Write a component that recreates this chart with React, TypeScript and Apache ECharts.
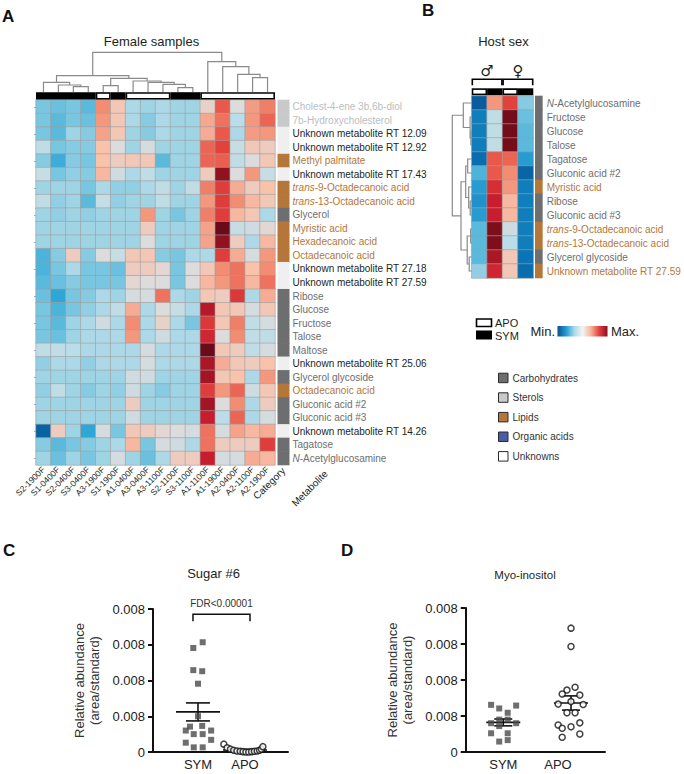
import React, { useEffect, useRef } from 'react';
import * as echarts from 'echarts';

const FONT = '"Liberation Sans", Arial, Helvetica, sans-serif';
const INK = '#231f20';

// ---------- Panel A data ----------
const samplesA = ['S2-1900F', 'S1-0400F', 'S2-0400F', 'S3-0400F', 'A3-1900F', 'S1-1900F', 'A1-0400F', 'A3-0400F',
  'A3-1100F', 'S2-1100F', 'S3-1100F', 'A1-1100F', 'A1-1900F', 'A2-0400F', 'A2-1100F', 'A2-1900F'];

const metabolitesA = ['Cholest-4-ene 3b,6b-diol', '7b-Hydroxycholesterol', 'Unknown metabolite RT 12.09',
  'Unknown metabolite RT 12.92', 'Methyl palmitate', 'Unknown metabolite RT 17.43', 'trans-9-Octadecanoic acid',
  'trans-13-Octadecanoic acid', 'Glycerol', 'Myristic acid', 'Hexadecanoic acid', 'Octadecanoic acid',
  'Unknown metabolite RT 27.18', 'Unknown metabolite RT 27.59', 'Ribose', 'Glucose', 'Fructose', 'Talose', 'Maltose',
  'Unknown metabolite RT 25.06', 'Glycerol glycoside', 'Octadecanoic acid ', 'Gluconic acid #2', 'Gluconic acid #3',
  'Unknown metabolite RT 14.26', 'Tagatose', 'N-Acetylglucosamine'];

const categoriesA = ['sterol', 'sterol', 'unknown', 'unknown', 'lipid', 'unknown', 'lipid', 'lipid', 'carb', 'lipid',
  'lipid', 'lipid', 'unknown', 'unknown', 'carb', 'carb', 'carb', 'carb', 'carb', 'unknown', 'carb', 'lipid', 'carb',
  'carb', 'unknown', 'carb', 'carb'];

const valuesA = [
  [3, 2.8, 3, 2.6, 7, 5.8, 3.8, 3.6, 3.8, 3.6, 3.6, 5.4, 7.8, 5, 6.7, 7.2],
  [3, 2.6, 3, 2.8, 6.8, 5.8, 3.8, 3.2, 3.8, 3.6, 3.6, 6.5, 7.4, 4.0, 6.8, 7.6],
  [3, 2.6, 3.6, 3.2, 6.6, 5.8, 3.6, 3.2, 3.8, 3.6, 3.6, 6.4, 7.8, 3.8, 6.7, 6.8],
  [4.2, 3, 3.2, 3.2, 6.0, 5.0, 3.6, 4.8, 3.6, 3.6, 3.6, 7.6, 8.2, 4.4, 5.8, 5.6],
  [3.2, 2.2, 3.2, 3.0, 6.0, 5.6, 5.8, 5.8, 2.6, 3.6, 3.6, 7.6, 7.7, 4.2, 5.0, 5.8],
  [4.4, 3, 3.4, 3.2, 6.2, 4.6, 3.8, 4.2, 3.6, 3.6, 3.6, 5.6, 9.6, 5.0, 6.8, 4.4],
  [3.6, 3.6, 3.6, 3.0, 3.8, 3.4, 3.4, 3.8, 4.2, 3.6, 4.2, 7.2, 8.3, 6.4, 5.6, 6.0],
  [4.2, 3.4, 3.6, 2.6, 4.4, 3.4, 3.6, 3.6, 4.2, 3.6, 3.6, 6.8, 8.3, 7.0, 6.2, 5.8],
  [3.6, 3.4, 3.6, 3.4, 3.6, 3.6, 3.6, 6.8, 3.6, 3.0, 3.6, 7.2, 8.3, 6.2, 5.8, 3.8],
  [3.6, 3.6, 3.6, 3.6, 3.6, 3.6, 3.6, 5.6, 3.6, 3.6, 3.6, 6.6, 10, 4.4, 4.6, 5.2],
  [3.6, 3.6, 3.6, 3.6, 3.6, 3.6, 3.6, 5.0, 3.6, 3.6, 3.6, 6.6, 9.6, 5.6, 3.8, 6.2],
  [2.4, 3.2, 5.6, 3.2, 5.0, 4.4, 5.8, 5.8, 3.2, 3.0, 3.8, 3.8, 8.3, 6.4, 4.8, 6.8],
  [2.4, 3.0, 3.8, 3.0, 3.0, 2.8, 5.6, 5.6, 5.2, 3.0, 5.0, 5.8, 7.0, 7.4, 6.0, 7.0],
  [2.6, 2.8, 3.2, 3.0, 3.0, 3.0, 5.2, 5.0, 5.0, 3.0, 5.0, 6.2, 6.8, 7.4, 6.2, 7.4],
  [2.8, 2.0, 3.0, 3.2, 3.8, 3.6, 4.8, 4.8, 7.4, 3.8, 3.6, 5.8, 5.6, 8.4, 3.8, 6.4],
  [3.0, 2.4, 3.0, 3.4, 3.8, 4.2, 6.4, 3.8, 5.0, 4.4, 3.8, 9.2, 5.8, 5.8, 4.8, 5.8],
  [3.0, 2.6, 3.6, 3.8, 4.6, 3.8, 7.0, 3.8, 5.4, 3.8, 3.0, 8.4, 5.8, 7.2, 4.2, 4.8],
  [3.0, 2.8, 3.6, 3.8, 3.8, 3.8, 6.8, 3.8, 4.6, 3.8, 3.8, 8.8, 5.0, 7.0, 4.2, 4.2],
  [4.2, 4.2, 4.0, 3.8, 3.8, 3.8, 3.8, 4.8, 3.8, 3.8, 3.8, 10, 5.8, 5.6, 4.2, 4.8],
  [3.4, 3.8, 3.8, 3.4, 3.8, 3.8, 3.8, 4.8, 3.8, 3.8, 3.8, 9.3, 6.4, 5.8, 5.6, 6.0],
  [3.6, 3.6, 3.6, 3.6, 3.6, 3.6, 4.6, 4.6, 3.6, 3.6, 3.6, 9.4, 5.8, 6.0, 3.8, 6.8],
  [3.4, 4.2, 3.6, 3.2, 3.6, 3.4, 4.6, 3.6, 3.2, 3.6, 3.6, 8.3, 6.8, 7.6, 4.6, 5.8],
  [3.6, 3.6, 3.6, 3.6, 3.6, 3.6, 5.6, 3.6, 3.6, 3.6, 3.6, 9.4, 5.0, 7.0, 3.8, 5.6],
  [3.6, 3.6, 3.6, 3.6, 3.6, 3.6, 4.6, 3.6, 3.6, 3.6, 3.6, 9.0, 4.0, 7.6, 3.8, 4.8],
  [0.5, 5.6, 3.6, 2.0, 4.8, 3.0, 5.8, 5.6, 5.2, 5.0, 4.8, 7.4, 4.8, 6.6, 6.2, 6.4],
  [3.2, 2.6, 3.0, 3.2, 3.6, 3.8, 6.2, 3.0, 4.8, 4.6, 3.8, 7.4, 5.6, 5.6, 5.6, 8.3],
  [3.6, 2.8, 3.6, 3.0, 3.6, 4.8, 3.6, 2.8, 3.8, 5.6, 5.6, 9.0, 4.8, 4.8, 6.4, 6.2],
];

// column dendrogram: [left, right, height]; leaves are column indices
const dendroA: any = [
  [[0, [1, [2, 3, 5.3], 7], 9.7], [[4, 5, 6.3], [6, [7, [8, [9, 10, 4.3], 7.7], 9.7], 11], 13.7], 16.3],
  [11, [12, [13, [14, 15, 14.3], 17.7], 25.3], 30.3],
  39.7,
];

// ---------- Panel B data ----------
const samplesB = ['Male APO', 'Male SYM', 'Female APO', 'Female SYM'];
const groupsB = ['APO', 'SYM', 'APO', 'SYM'];
const sexSymbolsB = ['\u2642', '\u2640'];
const sexSpansB = [[0, 1], [2, 3]];
const metabolitesB = ['N-Acetylglucosamine', 'Fructose', 'Glucose', 'Talose', 'Tagatose', 'Gluconic acid #2',
  'Myristic acid', 'Ribose', 'Gluconic acid #3', 'trans-9-Octadecanoic acid', 'trans-13-Octadecanoic acid',
  'Glycerol glycoside', 'Unknown metabolite RT 27.59'];
const categoriesB = ['carb', 'carb', 'carb', 'carb', 'carb', 'carb', 'lipid', 'carb', 'carb', 'lipid', 'lipid', 'carb', 'lipid'];
const valuesB = [
  [0.3, 6.8, 8.2, 3.2],
  [1.2, 4.2, 9.9, 2.8],
  [1.2, 4.2, 9.9, 2.6],
  [1.2, 4.2, 9.9, 2.6],
  [0.8, 7.8, 7.6, 1.8],
  [2.4, 7.8, 7.0, 0.6],
  [1.8, 8.6, 6.8, 1.2],
  [1.6, 9.0, 6.2, 1.2],
  [1.8, 9.0, 6.2, 1.2],
  [2.6, 9.8, 4.6, 1.2],
  [2.6, 9.8, 4.0, 1.2],
  [2.6, 9.3, 5.8, 1.0],
  [3.4, 8.8, 5.8, 0.8],
];
const dendroB: any = [
  [0, [1, [2, 3, 0.8], 1.6], 8.4],
  [[[4, 5, 4], [6, [7, 8, 1.5], 3], 6], [[9, 10, 1], [11, 12, 2.5], 4.5], 10.7],
  19.4,
];

// ---------- Legends ----------
const legendCategories = ['Carbohydrates', 'Sterols', 'Lipids', 'Organic acids', 'Unknowns'];
const legendKeys = ['carb', 'sterol', 'lipid', 'organic', 'unknown'];
const groupLegend = ['APO', 'SYM'];

// ---------- Panels C & D ----------
const groupsCD = ['SYM', 'APO'];
const yTickLabels = ['0', '0.008', '0.008', '0.008', '0.008'];
const titleC = 'Sugar #6';
const titleD = 'Myo-inositol';
const fdrText = 'FDR<0.00001';
const fdrLevel = 3.85;

const symC = [3.07, 2.91, 2.29, 2.26, 1.91, 1.0, 0.71, 0.73, 0.6, 0.6, 0.5, 0.5, 0.34, 0.26, 0.13, 0.13];
const symCJitter = [0.1, -0.1, -0.1, 0.09, 0, 0, -0.17, 0.09, -0.26, 0.28, -0.09, 0.1, 0.28, -0.26, -0.09, 0.1];
const apoC = [0.22, 0.12, 0.08, 0.05, 0.03, 0.02, 0.01, 0.0, 0.0, 0.01, 0.02, 0.03, 0.05, 0.08, 0.15];
const apoCJitter = [-0.45, -0.38, -0.31, -0.24, -0.17, -0.1, -0.04, 0.02, 0.08, 0.14, 0.2, 0.26, 0.31, 0.35, 0.38];

const symD = [1.31, 1.21, 1.29, 1.09, 0.9, 0.9, 0.8, 0.8, 0.72, 0.52, 0.52, 0.29, 0.33];
const symDJitter = [-0.18, -0.06, 0.19, 0.065, -0.06, 0.065, -0.18, 0.19, -0.06, -0.18, 0.065, -0.06, 0.065];
const apoD = [3.44, 2.93, 1.80, 1.72, 1.61, 1.58, 1.40, 1.33, 1.32, 1.09, 1.09, 0.75, 0.66, 0.81, 0.70, 0.50, 0.41];
const apoDJitter = [0, 0, 0.06, -0.06, -0.13, 0.13, 0, -0.19, 0.18, -0.06, 0.06, -0.19, -0.13, 0.13, 0, 0.13, -0.13];

// ---------- styles ----------
const heatColors = ['#08508f', '#0a74b6', '#2ea6d6', '#79c6e0', '#b9dde9', '#dcdcdc', '#f8c2ab', '#f28c72', '#e84b40', '#c81d2e', '#6b0a18'];
const legendGradient = ['#08508f', '#1f9ad0', '#a9d8e9', '#f4f4f4', '#f6b39c', '#e4413d', '#8c0d22'];
const catFill: Record<string, string> = { carb: '#6d6e70', sterol: '#c8c9cb', lipid: '#b5763a', organic: '#4a5ca6', unknown: '#efefef' };
const legendFill: Record<string, string> = { carb: '#6d6e70', sterol: '#c8c9cb', lipid: '#b5763a', organic: '#4a5ca6', unknown: '#ffffff' };
const catText: Record<string, string> = { carb: '#6d6e70', sterol: '#bcbdbf', lipid: '#b5763a', unknown: INK };

type TNode = number | [TNode, TNode, number];
function layoutTree(node: TNode, links: number[][]): { pos: number; h: number } {
  if (typeof node === 'number') return { pos: node, h: 0 };
  const a = layoutTree(node[0], links);
  const b = layoutTree(node[1], links);
  links.push([a.pos, a.h, b.pos, b.h, node[2]]);
  return { pos: (a.pos + b.pos) / 2, h: node[2] };
}

function meanSem(arr: number[]) {
  const n = arr.length;
  const m = arr.reduce((a, b) => a + b, 0) / n;
  const sd = Math.sqrt(arr.reduce((a, b) => a + (b - m) * (b - m), 0) / (n - 1));
  return [m, sd / Math.sqrt(n)];
}

function runsOf(groups: string[]) {
  const runs: number[][] = [];
  groups.forEach((g, i) => {
    const sym = g === 'SYM' ? 1 : 0;
    const last = runs[runs.length - 1];
    if (last && last[2] === sym) last[1] = i;
    else runs.push([i, i, sym]);
  });
  return runs;
}

const richFor = () => {
  const r: any = {};
  Object.keys(catText).forEach((k) => {
    r[k] = { color: catText[k], fontSize: 10, fontFamily: FONT };
    r[k + 'I'] = { color: catText[k], fontSize: 10, fontFamily: FONT, fontStyle: 'italic' };
  });
  return r;
};

const labelFormatter = (cats: string[]) => (value: string, idx: number) => {
  const cat = cats[idx];
  const name = value.trim();
  const m = name.match(/^(trans|N)(-.*)$/);
  if (m) return `{${cat}I|${m[1]}}{${cat}|${m[2]}}`;
  return `{${cat}|${name}}`;
};

const hiddenValue = (gridIndex: number, min: number, max: number, inverse = false) => ({
  type: 'value', gridIndex, min, max, inverse, show: false,
});

function buildOption() {
  const heatDataA: number[][] = [];
  valuesA.forEach((row, r) => row.forEach((v, c) => heatDataA.push([c, r, v])));
  const heatDataB: number[][] = [];
  valuesB.forEach((row, r) => row.forEach((v, c) => heatDataB.push([c, r, v])));

  const groupsA = samplesA.map((s) => (s[0] === 'S' ? 'SYM' : 'APO'));
  const runsA = runsOf(groupsA);
  const runsB = runsOf(groupsB);

  const linksA: number[][] = [];
  layoutTree(dendroA, linksA);
  const linksB: number[][] = [];
  layoutTree(dendroB, linksB);

  const stripRender = (cats: string[]) => (params: any, api: any) => {
    const p = api.coord([api.value(0), api.value(1)]);
    const s = api.size([1, 1]);
    return {
      type: 'rect',
      shape: { x: p[0] - s[0] / 2, y: p[1] - s[1] / 2 - 0.3, width: s[0], height: s[1] + 0.6 },
      style: { fill: catFill[cats[params.dataIndex]] },
    };
  };

  const barRender = (params: any, api: any) => {
    const a = api.coord([api.value(0) - 0.5, 1]);
    const b = api.coord([api.value(1) + 0.5, 0]);
    const children: any[] = [
      { type: 'rect', shape: { x: a[0], y: a[1], width: b[0] - a[0], height: b[1] - a[1] }, style: { fill: '#000' } },
    ];
    if (!api.value(2)) {
      children.push({
        type: 'rect',
        shape: { x: a[0] + 1.6, y: a[1] + 1.6, width: b[0] - a[0] - 3.2, height: b[1] - a[1] - 3.2 },
        style: { fill: '#fff' },
      });
    }
    return { type: 'group', children };
  };

  const dendroRenderV = (params: any, api: any) => {
    const x1 = api.value(0), h1 = api.value(1), x2 = api.value(2), h2 = api.value(3), h = api.value(4);
    return {
      type: 'polyline',
      shape: { points: [api.coord([x1, h1]), api.coord([x1, h]), api.coord([x2, h]), api.coord([x2, h2])] },
      style: { stroke: '#8a8a8a', lineWidth: 1.2, fill: 'none' },
    };
  };
  const dendroRenderH = (params: any, api: any) => {
    const y1 = api.value(0), h1 = api.value(1), y2 = api.value(2), h2 = api.value(3), h = api.value(4);
    return {
      type: 'polyline',
      shape: { points: [api.coord([h1, y1]), api.coord([h, y1]), api.coord([h, y2]), api.coord([h2, y2])] },
      style: { stroke: '#8a8a8a', lineWidth: 1.2, fill: 'none' },
    };
  };

  const bracketRender = (params: any, api: any) => {
    const a = api.coord([api.value(0) - 0.5, 1]);
    const b = api.coord([api.value(1) + 0.5, 1]);
    const x1 = a[0] + 0.6, x2 = b[0] - 0.6, top = a[1];
    return {
      type: 'group',
      children: [
        {
          type: 'polyline',
          shape: { points: [[x1, top - 3], [x1, top - 9], [x2, top - 9], [x2, top - 3]] },
          style: { stroke: '#000', lineWidth: 1.6, fill: 'none' },
        },
        {
          type: 'text',
          style: {
            text: sexSymbolsB[params.dataIndex], x: (x1 + x2) / 2, y: top - 17, align: 'center', verticalAlign: 'middle',
            fontSize: 15, fontFamily: '"DejaVu Sans", sans-serif', fill: INK,
          },
        },
      ],
    };
  };

  const meanRender = (halfW: number, capW: number) => (params: any, api: any) => {
    const x = api.value(0), m = api.value(1), s = api.value(2);
    const c = api.coord([x, m]);
    const t = api.coord([x, m + s]);
    const b = api.coord([x, m - s]);
    const st = { stroke: '#111', lineWidth: 1.6 };
    return {
      type: 'group',
      children: [
        { type: 'line', shape: { x1: c[0] - halfW, y1: c[1], x2: c[0] + halfW, y2: c[1] }, style: st },
        { type: 'line', shape: { x1: t[0], y1: t[1], x2: b[0], y2: b[1] }, style: st },
        { type: 'line', shape: { x1: t[0] - capW, y1: t[1], x2: t[0] + capW, y2: t[1] }, style: st },
        { type: 'line', shape: { x1: b[0] - capW, y1: b[1], x2: b[0] + capW, y2: b[1] }, style: st },
      ],
    };
  };

  const fdrRender = (params: any, api: any) => {
    const a = api.coord([api.value(0), api.value(2)]);
    const b = api.coord([api.value(1), api.value(2)]);
    const x1 = a[0] - 5, x2 = b[0] + 5, y = a[1];
    return {
      type: 'group',
      children: [
        {
          type: 'polyline',
          shape: { points: [[x1, y + 7], [x1, y], [x2, y], [x2, y + 7]] },
          style: { stroke: '#111', lineWidth: 1.5, fill: 'none' },
        },
        {
          type: 'text',
          style: { text: fdrText, x: (x1 + x2) / 2, y: y - 11, align: 'center', verticalAlign: 'middle', fontSize: 10, fontFamily: FONT, fill: '#333' },
        },
      ],
    };
  };

  const [mSymC, sSymC] = meanSem(symC);
  const [mApoC, sApoC] = meanSem(apoC);
  const [mSymD, sSymD] = meanSem(symD);
  const [mApoD, sApoD] = meanSem(apoD);

  const dotX = (gridIndex: number, min: number, max: number, shiftApo: number) => ({
    type: 'value', gridIndex, min, max,
    axisLine: { show: true, lineStyle: { color: '#111', width: 2 } },
    axisTick: { show: false },
    splitLine: { show: false },
    axisLabel: {
      customValues: [1, 2], margin: 6, fontSize: 13, color: '#222', fontFamily: FONT,
      formatter: (v: number) => (v === 1 ? `{a|${groupsCD[0]}}` : `{b|${groupsCD[1]}}`),
      rich: {
        a: { fontSize: 13, color: '#222', fontFamily: FONT },
        b: { fontSize: 13, color: '#222', fontFamily: FONT, padding: [0, shiftApo, 0, 0] },
      },
    },
  });
  const dotY = (gridIndex: number) => ({
    type: 'value', gridIndex, min: 0, max: 4, interval: 1,
    axisLine: { show: true, lineStyle: { color: '#111', width: 2 } },
    axisTick: { show: true, length: 5, lineStyle: { color: '#111', width: 2 } },
    splitLine: { show: false },
    axisLabel: { margin: 8, fontSize: 13, color: '#222', fontFamily: FONT, formatter: (v: number) => yTickLabels[v] },
    name: 'Relative abundance\n(area/standard)',
    nameLocation: 'middle', nameRotate: 90, nameGap: 51,
    nameTextStyle: { fontSize: 13, color: '#333', fontFamily: FONT, lineHeight: 15 },
  });

  const squareStyle = { color: '#4a4a4a' };
  const circleStyle = { color: '#ffffff', borderColor: '#111', borderWidth: 1.5 };

  const gtext = (text: string, x: number, y: number, extra: any = {}) => ({
    type: 'text', x, y, silent: true,
    style: { text, fontFamily: FONT, fontSize: 13, fill: INK, align: 'center', verticalAlign: 'middle', ...extra },
  });

  const graphic: any[] = [
    gtext('A', 2, 16, { fontSize: 17, fontWeight: 'bold', align: 'left', fill: '#111' }),
    gtext('B', 422, 10.5, { fontSize: 17, fontWeight: 'bold', align: 'left', fill: '#111' }),
    gtext('C', 3, 550, { fontSize: 17, fontWeight: 'bold', align: 'left', fill: '#111' }),
    gtext('D', 341, 550, { fontSize: 17, fontWeight: 'bold', align: 'left', fill: '#111' }),
    gtext('Female samples', 151.5, 41),
    gtext('Host sex', 503.5, 41),
    gtext(titleC, 213.5, 573.5),
    gtext(titleD, 525, 575, { fontSize: 11.5 }),
    { ...gtext('Metabolite', 326, 472, { fontSize: 10, align: 'right' }), rotation: Math.PI / 4 },
    // APO / SYM legend
    { type: 'rect', silent: true, shape: { x: 476.5, y: 319, width: 15, height: 7.5 }, style: { fill: '#fff', stroke: '#000', lineWidth: 1.6 } },
    { type: 'rect', silent: true, shape: { x: 476, y: 330.5, width: 16, height: 9 }, style: { fill: '#000' } },
    gtext(groupLegend[0], 495, 322.5, { fontSize: 11, align: 'left' }),
    gtext(groupLegend[1], 495, 335.5, { fontSize: 11, align: 'left' }),
    // gradient legend
    gtext('Min.', 555, 331.5, { fontSize: 13, align: 'right' }),
    gtext('Max.', 611, 331.5, { fontSize: 13, align: 'left' }),
    {
      type: 'rect', silent: true, shape: { x: 557.5, y: 326, width: 50, height: 10.5 },
      style: {
        fill: new echarts.graphic.LinearGradient(0, 0, 1, 0,
          legendGradient.map((c, i) => ({ offset: i / (legendGradient.length - 1), color: c }))),
      },
    },
  ];
  legendCategories.forEach((name, i) => {
    const y = 378 + i * 19.6;
    graphic.push({
      type: 'rect', silent: true, shape: { x: 498.5, y: y - 4.8, width: 9.5, height: 9.5 },
      style: { fill: legendFill[legendKeys[i]], stroke: '#2a2a2a', lineWidth: 1 },
    });
    graphic.push(gtext(name, 512.5, y, { fontSize: 10, align: 'left', fill: '#333' }));
  });

  return {
    animation: false,
    textStyle: { fontFamily: FONT },
    grid: [
      { left: 36, top: 100, width: 239, height: 365 }, // 0 heat A
      { left: 277.5, top: 100, width: 12, height: 365 }, // 1 strip A
      { left: 36, top: 92.2, width: 239, height: 7.4 }, // 2 bar A
      { left: 36, top: 52, width: 239, height: 40 }, // 3 dendro A
      { left: 471.7, top: 96, width: 61.6, height: 182 }, // 4 heat B
      { left: 535, top: 96, width: 11, height: 182 }, // 5 strip B
      { left: 471.7, top: 88.3, width: 61.6, height: 6.9 }, // 6 bar B
      { left: 452, top: 96, width: 19.7, height: 182 }, // 7 dendro B
      { left: 153, top: 609, width: 135, height: 143 }, // 8 C
      { left: 465.7, top: 608, width: 139.3, height: 144 }, // 9 D
    ],
    xAxis: [
      {
        type: 'category', gridIndex: 0, data: samplesA, position: 'bottom',
        axisLine: { show: false }, axisTick: { show: false }, splitLine: { show: false },
        axisLabel: { rotate: 45, interval: 0, fontSize: 8.5, margin: 3, color: INK, fontFamily: FONT },
      },
      {
        type: 'category', gridIndex: 1, data: ['Category'],
        axisLine: { show: false }, axisTick: { show: false },
        axisLabel: { rotate: 45, interval: 0, fontSize: 10, margin: 4, color: INK, fontFamily: FONT },
      },
      hiddenValue(2, -0.5, 15.5),
      hiddenValue(3, -0.5, 15.5),
      { type: 'category', gridIndex: 4, data: samplesB, show: false },
      { type: 'category', gridIndex: 5, data: [''], show: false },
      hiddenValue(6, -0.5, 3.5),
      hiddenValue(7, 0, 19.7, true),
      dotX(8, 0.043, 2.915, 0),
      dotX(9, 0.445, 2.502, 26),
    ],
    yAxis: [
      {
        type: 'category', gridIndex: 0, data: metabolitesA, inverse: true,
        axisLine: { show: false }, axisLabel: { show: false },
        axisTick: { show: true, alignWithLabel: true, length: 2, lineStyle: { color: '#aaa' } },
      },
      {
        type: 'category', gridIndex: 1, data: metabolitesA, inverse: true, position: 'right',
        axisLine: { show: false }, axisTick: { show: false },
        axisLabel: { interval: 0, margin: 3, formatter: labelFormatter(categoriesA), rich: richFor() },
      },
      hiddenValue(2, 0, 1),
      hiddenValue(3, 0, 40),
      { type: 'category', gridIndex: 4, data: metabolitesB, inverse: true, show: false },
      {
        type: 'category', gridIndex: 5, data: metabolitesB, inverse: true, position: 'right',
        axisLine: { show: false }, axisTick: { show: false },
        axisLabel: { interval: 0, margin: 4, formatter: labelFormatter(categoriesB), rich: richFor() },
      },
      hiddenValue(6, 0, 1),
      hiddenValue(7, -0.5, 12.5, true),
      dotY(8),
      dotY(9),
    ],
    visualMap: {
      type: 'continuous', show: false, min: 0, max: 10, dimension: 2, seriesIndex: [0, 1],
      inRange: { color: heatColors },
    },
    graphic,
    series: [
      {
        type: 'heatmap', xAxisIndex: 0, yAxisIndex: 0, data: heatDataA, silent: true,
        itemStyle: { borderColor: '#9f9f9f', borderWidth: 0.6 },
      },
      {
        type: 'heatmap', xAxisIndex: 4, yAxisIndex: 4, data: heatDataB, silent: true,
        itemStyle: { borderColor: '#9f9f9f', borderWidth: 0.6 },
      },
      { type: 'custom', xAxisIndex: 1, yAxisIndex: 1, silent: true, clip: false, data: categoriesA.map((c, r) => [0, r]), renderItem: stripRender(categoriesA) },
      { type: 'custom', xAxisIndex: 5, yAxisIndex: 5, silent: true, clip: false, data: categoriesB.map((c, r) => [0, r]), renderItem: stripRender(categoriesB) },
      { type: 'custom', xAxisIndex: 2, yAxisIndex: 2, silent: true, clip: false, data: runsA, renderItem: barRender },
      { type: 'custom', xAxisIndex: 6, yAxisIndex: 6, silent: true, clip: false, data: runsB, renderItem: barRender },
      { type: 'custom', xAxisIndex: 6, yAxisIndex: 6, silent: true, clip: false, data: sexSpansB, renderItem: bracketRender },
      { type: 'custom', xAxisIndex: 3, yAxisIndex: 3, silent: true, clip: false, data: linksA, renderItem: dendroRenderV },
      { type: 'custom', xAxisIndex: 7, yAxisIndex: 7, silent: true, clip: false, data: linksB, renderItem: dendroRenderH },
      {
        type: 'scatter', xAxisIndex: 8, yAxisIndex: 8, silent: true, symbol: 'rect', symbolSize: 6,
        itemStyle: squareStyle, data: symC.map((v, i) => [1 + symCJitter[i], v]),
      },
      {
        type: 'scatter', xAxisIndex: 8, yAxisIndex: 8, silent: true, symbol: 'circle', symbolSize: 6,
        itemStyle: circleStyle, data: apoC.map((v, i) => [2 + apoCJitter[i], v]),
      },
      {
        type: 'custom', xAxisIndex: 8, yAxisIndex: 8, silent: true, clip: false,
        data: [[1, mSymC, sSymC], [2, mApoC, sApoC]], renderItem: meanRender(22, 12),
      },
      {
        type: 'custom', xAxisIndex: 8, yAxisIndex: 8, silent: true, clip: false,
        data: [[1, 2, fdrLevel]], renderItem: fdrRender,
      },
      {
        type: 'scatter', xAxisIndex: 9, yAxisIndex: 9, silent: true, symbol: 'rect', symbolSize: 6,
        itemStyle: squareStyle, data: symD.map((v, i) => [1 + symDJitter[i], v]),
      },
      {
        type: 'scatter', xAxisIndex: 9, yAxisIndex: 9, silent: true, symbol: 'circle', symbolSize: 6,
        itemStyle: circleStyle, data: apoD.map((v, i) => [2 + apoDJitter[i], v]),
      },
      {
        type: 'custom', xAxisIndex: 9, yAxisIndex: 9, silent: true, clip: false,
        data: [[1, mSymD, sSymD], [2, mApoD, sApoD]], renderItem: meanRender(17, 9),
      },
    ],
  };
}

export default function App() {
  const ref = useRef<HTMLDivElement>(null);
  useEffect(() => {
    if (!ref.current) return;
    const chart = echarts.init(ref.current, undefined, { renderer: 'svg' });
    chart.setOption(buildOption() as any);
    return () => chart.dispose();
  }, []);
  return (
    <div
      ref={ref}
      style={{ position: 'absolute', left: 0, top: 0, width: 684, height: 774, background: '#fff' }}
    />
  );
}
